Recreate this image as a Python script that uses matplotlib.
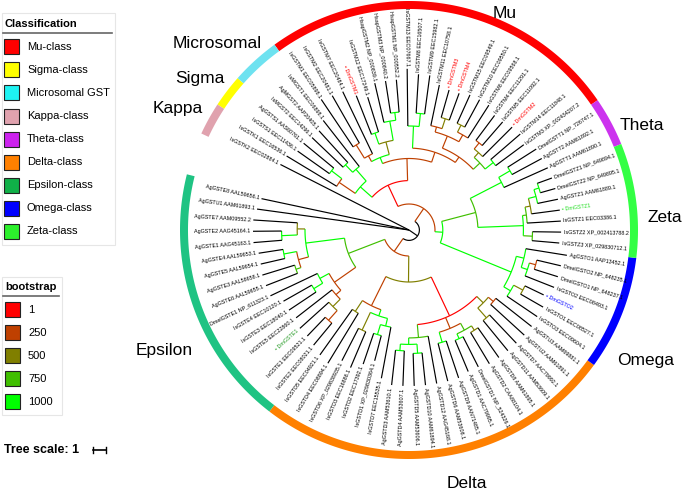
import numpy as np
import matplotlib
matplotlib.use("Agg")
import matplotlib.pyplot as plt
from matplotlib.patches import Rectangle

plt.rcParams['font.family'] = ['Liberation Sans', 'DejaVu Sans']

# ---- tree (newick pieces, branch lengths in tree units, node labels = bootstrap)
EPS_LADDER = ("((AgGSTE7:3.4,(AgGSTE2:2.2,AgGSTE1:2.2)1000:1.2)500:0.6,"
              "((AgGSTE4:1.9,AgGSTE5:1.9)1000:1.0,(AgGSTE3:2.6,AgGSTE6:2.6)750:0.4)250:0.8)1000")
EPS_IS = ("((DmelGSTE1:4.0,(IsGSTE4:2.5,IsGSTE3:2.5)1000:0.8)1000:0.8,"
          "(IsGSTE5:3.5,(DmGSTE1:3.0,(IsGSTE1:2.0,IsGSTE2:2.2)250:1.0)500:0.8)250:0.5)250")
DELTA_IS = ("((IsGSTD5:4.3,IsGSTD4:4.5)500:1.0,((IsGSTD6:2.8,IsGSTD3:3.0)500:1.5,"
            "((IsGSTD2:2.5,IsGSTD1:2.0)1000:0.8,IsGSTD7:4.0)1000:0.6)1000:0.5)250")
DELTA_AG1 = ("(((AgGSTD3:2.7,AgGSTD4:2.7)1000:0.5,(AgGSTD5:2.5,AgGSTD10:2.5)1000:0.7)1000:0.5,"
             "AgGSTD12:3.7)750")
DELTA_AG2 = ("((AgGSTD6:3.0,AgGSTD9:3.0)1000:0.8,((AgGSTD1:2.6,DmelGSTD1:2.6)1000:0.4,"
             "(AgGSTD2:2.8,AgGSTD8:2.8)500:0.4)750:0.6)250")
DELTA_AG3 = "((AgGSTD11:3.0,AgGSTD7:3.0)500:1.0,(AgGSTU2:3.5,AgGSTU3:3.5)250:0.5)500"
OMEGA = ("((IsGSTO3:2.8,(IsGSTO1:2.0,DmGSTO2:1.6)500:0.8)1000:0.6,"
         "((IsGSTO2:2.4,(DmelGSTO1:1.9,DmelGSTO2:1.9)250:0.5)1000:0.5,AgGSTO1:3.2)1000:0.6)1000")
ZETA = ("((IsGSTZ3:2.1,IsGSTZ2:2.2)750:0.7,(IsGSTZ1:2.6,(DmGSTZ1:2.2,(AgGSTZ1:1.6,"
        "(DmelGSTZ2:1.2,DmelGSTZ1:1.2)1000:0.4)1000:0.6)500:0.4)750:0.3)1000")
THETA = "(AgGSTT1:3.7,(AgGSTT2:2.6,DmelGSTT1:2.6)1000:1.0)1000"
MU_A = ("((IsGSTM3:2.7,IsGSTM14:3.0)1000:0.8,(DmGSTM2:3.2,(IsGSTM5:2.4,IsGSTM4:2.4)250:0.6)500:0.5)750")
MU_B = ("((IsGSTM6:3.0,(IsGSTM10:2.4,IsGSTM15:2.4)500:0.6)250:0.6,"
        "((DmGSTM4:2.2,DmGSTM3:2.2)500:0.8,IsGSTM11:3.2)250:0.4)250")
MU_C = "((IsGSTM9:3.0,IsGSTM8:3.0)1000:1.0,IsGSTM13:4.4)1000"
MU_D = ("(((HsapGSTM1:2.5,HsapGSTM3:2.5)1000:0.6,HsapGSTM2:3.1)1000:1.5,"
        "(IsGSTM12:2.8,DmGSTM1:3.2)1000:0.9)500")
MU_E = "(IsGSTM7:5.3,(IsGSTM2:4.2,IsGSTM1:4.4)250:1.2)250"
MSK = ("((IsMGST1:4.5,(AgMGST2:3.3,IsMGST2:3.3)1000:0.8)1000:1.2,"
       "((AgGSTS1:3.0,IsGSTS1:3.0)1000:1.0,IsGSTK1:4.5)250:1.5)1000")

EPSILON = "(" + EPS_LADDER + ":3.0," + EPS_IS + ":2.0)750"
DELTA = "(" + DELTA_IS + ":2.5,(" + DELTA_AG1 + ":1.0," + DELTA_AG2 + ":0.9," + DELTA_AG3 + ":0.7)1:3.3)500"
LOWER = "(" + EPSILON + ":3.0," + DELTA + ":2.0)250"
OZT = "(" + OMEGA + ":5.9,(" + ZETA + ":3.5," + THETA + ":2.7)750:2.7)1000"
MU = ("(((" + MU_A + ":0.7," + MU_B + ":1.0)250:0.5," + MU_C + ":1.7)250:0.8,("
      + MU_D + ":1.0," + MU_E + ":0.5)1000:0.5)250")
UPPER = "(" + OZT + ":0.6,(" + MU + ":1.7," + MSK + ":1.2)1:1.8)250"
TREE = "(AgGSTE8:11.6,AgGSTU1:11.8,(" + LOWER + ":1.2," + UPPER + ":1.2):0.8,IsGSTK2:11.1);"

ACCESSION = {
    "AgGSTE8": "AAL59656.1", "AgGSTU1": "AAM61893.1", "AgGSTE7": "AAM09552.2",
    "AgGSTE2": "AAG45164.1", "AgGSTE1": "AAG45163.1", "AgGSTE4": "AAL59653.1",
    "AgGSTE5": "AAL59654.1", "AgGSTE3": "AAL58658.1", "AgGSTE6": "AAL59655.1",
    "DmelGSTE1": "NP_611323.1", "IsGSTE4": "EEC10120.1", "IsGSTE3": "EEC18040.1",
    "IsGSTE5": "EEC22860.1", "IsGSTE1": "EEC09521.1", "IsGSTE2": "EEC08021.1",
    "IsGSTD5": "EEC04921.1", "IsGSTD4": "EEC08894.1", "IsGSTD6": "XP_029838935.1",
    "IsGSTD3": "EEC16886.1", "IsGSTD2": "EEC17392.1", "IsGSTD1": "XP_029830364.1",
    "IsGSTD7": "EEC15535.1", "AgGSTD3": "AAM53610.1", "AgGSTD4": "AAM53607.1",
    "AgGSTD5": "AAM53606.1", "AgGSTD10": "AAM61894.1", "AgGSTD12": "AAG45168.1",
    "AgGSTD6": "AAM53608.1", "AgGSTD9": "AAN71485.1", "AgGSTD1": "AAC79995.1",
    "DmelGSTD1": "NP_524326.1", "AgGSTD2": "CAA88104.1", "AgGSTD8": "AAM61895.1",
    "AgGSTD11": "AAM53609.1", "AgGSTD7": "AAC79992.1", "AgGSTU2": "AAM61891.1",
    "AgGSTU3": "AAM69881.1", "IsGSTO3": "EEC09604.1", "IsGSTO1": "EEC08527.1",
    "IsGSTO2": "EEC08493.1", "DmelGSTO1": "NP_648237.1", "DmelGSTO2": "NP_648235.1",
    "AgGSTO1": "AAP13452.1", "IsGSTZ3": "XP_029830712.1", "IsGSTZ2": "XP_002413788.2",
    "IsGSTZ1": "EEC03386.1", "AgGSTZ1": "AAM61889.1", "DmelGSTZ2": "NP_649895.1",
    "DmelGSTZ1": "NP_649894.1", "AgGSTT1": "AAM61890.1", "AgGSTT2": "AAM61892.1",
    "DmelGSTT1": "NP_726747.1", "IsGSTM3": "XP_002434207.2", "IsGSTM14": "EEC11848.1",
    "IsGSTM5": "EEC11092.1", "IsGSTM4": "EEC11291.1", "IsGSTM6": "EEC09568.1",
    "IsGSTM10": "EEC09550.1", "IsGSTM15": "EEC09549.1", "IsGSTM11": "EEC10758.1",
    "IsGSTM9": "EEC15982.1", "IsGSTM8": "EEC16507.1", "IsGSTM13": "EEC07667.1",
    "HsapGSTM1": "NP_000552.2", "HsapGSTM3": "NP_000840.2", "HsapGSTM2": "NP_000839.1",
    "IsGSTM12": "EEC17249.1", "IsGSTM7": "EEC20484.1", "IsGSTM2": "EEC20481.1",
    "IsGSTM1": "EEC05898.1", "IsMGST1": "EEC06898.1", "AgMGST2": "AAP20405.1",
    "IsMGST2": "EEC14296.1", "AgGSTS1": "AAS60761.1", "IsGSTS1": "EEC11436.1",
    "IsGSTK1": "EEC16536.1", "IsGSTK2": "EEC02884.1",
}
HIGHLIGHT = {"DmGSTM1": "#ff0000", "DmGSTM2": "#ff0000", "DmGSTM3": "#ff0000",
             "DmGSTM4": "#ff0000", "DmGSTZ1": "#22dd22", "DmGSTE1": "#229922",
             "DmGSTO2": "#0000ff"}

CLASS_NAMES = ["Mu-class", "Sigma-class", "Microsomal GST", "Kappa-class", "Theta-class",
               "Delta-class", "Epsilon-class", "Omega-class", "Zeta-class"]
CLASS_COLORS = ["#ff0000", "#ffff00", "#1ef2f2", "#e0a2ae", "#cc22ee",
                "#ff8000", "#10b048", "#0000ff", "#2cf02c"]
RING_COLORS = ["#ff0000", "#ffff00", "#6ee2f0", "#e0a2ae", "#cc33ee",
               "#ff8000", "#1fc383", "#0000ff", "#33ff44"]
CLASS_TAGS = ["Mu", "Sigma", "Microsomal", "Kappa", "Theta", "Delta", "Epsilon", "Omega", "Zeta"]
CLASS_FIRST = ["IsGSTM3", "AgGSTS1", "IsMGST1", "IsGSTK1", "AgGSTT1",
               "IsGSTD5", "AgGSTE8", "IsGSTO3", "IsGSTZ3"]
CLASS_LAST = ["IsGSTM1", "IsGSTS1", "IsMGST2", "IsGSTK2", "DmelGSTT1",
              "AgGSTU3", "IsGSTE2", "AgGSTO1", "DmelGSTZ1"]

BOOT_TICKS = [1, 250, 500, 750, 1000]

# ---- layout
CX, CY = 409, 230
UNIT = 13.0          # px per tree unit
START, SPAN = 168.0, 345.0
R_RING, RING_W = 225, 8
LABEL_POS = {"Mu": (505, 13), "Theta": (642, 125), "Zeta": (665, 217), "Omega": (646, 360),
             "Delta": (467, 483), "Epsilon": (164, 350), "Kappa": (178, 108),
             "Sigma": (200, 79), "Microsomal": (217, 44)}


def parse_newick(s):
    pos = 0

    def node():
        nonlocal pos
        n = {"children": [], "name": "", "length": 0.0, "support": None}
        if s[pos] == "(":
            pos += 1
            while True:
                n["children"].append(node())
                if s[pos] == ",":
                    pos += 1
                    continue
                pos += 1
                break
        start = pos
        while s[pos] not in ",():;":
            pos += 1
        label = s[start:pos].strip()
        if n["children"]:
            n["support"] = float(label) if label else None
        else:
            n["name"] = label
        if s[pos] == ":":
            pos += 1
            start = pos
            while s[pos] not in ",();":
                pos += 1
            n["length"] = float(s[start:pos])
        return n

    return node()


root = parse_newick(TREE)
leaves = []


def set_radius(n, r0):
    n["r"] = r0 + n["length"] * UNIT
    for c in n["children"]:
        set_radius(c, n["r"])
    if not n["children"]:
        leaves.append(n)


set_radius(root, 0.0)
step = SPAN / (len(leaves) - 1)
for i, lf in enumerate(leaves):
    lf["theta"] = START + i * step


def set_theta(n):
    if n["children"]:
        for c in n["children"]:
            set_theta(c)
        n["theta"] = 0.5 * (n["children"][0]["theta"] + n["children"][-1]["theta"])


set_theta(root)
leaf_theta = {lf["name"]: lf["theta"] for lf in leaves}


def pol(r, th):
    t = np.radians(th)
    return CX + r * np.cos(t), CY - r * np.sin(t)


def boot_color(b):
    t = (b - 1) / 999.0
    return (1 - t, t, 0)


fig = plt.figure(figsize=(6.85, 4.94), dpi=100)
ax = fig.add_axes([0, 0, 1, 1])
ax.set_xlim(0, 685)
ax.set_ylim(494, 0)
ax.axis('off')


def draw(n, parent_r):
    leaf = not n["children"]
    col = 'black' if (leaf or n["support"] is None) else boot_color(n["support"])
    if parent_r is not None:
        x0, y0 = pol(parent_r, n["theta"])
        x1, y1 = pol(n["r"], n["theta"])
        ax.plot([x0, x1], [y0, y1], color=col, lw=0.85, solid_capstyle='butt')
    if not leaf:
        a0, a1 = n["children"][0]["theta"], n["children"][-1]["theta"]
        ts = np.linspace(a0, a1, max(3, int(abs(a1 - a0) * 2)))
        xs, ys = pol(n["r"], ts)
        ax.plot(xs, ys, color=col, lw=0.85, solid_capstyle='butt')
        for c in n["children"]:
            draw(c, n["r"])
    else:
        name = n["name"]
        th = n["theta"]
        if name in HIGHLIGHT:
            txt, tcol = "\u2022 " + name, HIGHLIGHT[name]
        else:
            txt, tcol = name + " " + ACCESSION.get(name, ""), 'black'
        x, y = pol(n["r"] + 2.5, th)
        thn = th % 360
        if 90 < thn < 270:
            ax.text(x, y, txt, rotation=thn - 180, ha='right', va='center',
                    rotation_mode='anchor', fontsize=3.9, color=tcol)
        else:
            ax.text(x, y, txt, rotation=thn, ha='left', va='center',
                    rotation_mode='anchor', fontsize=3.9, color=tcol)


draw(root, None)

# classification ring
for tag, col, first, last in zip(CLASS_TAGS, RING_COLORS, CLASS_FIRST, CLASS_LAST):
    a0 = leaf_theta[first] - step / 2
    a1 = leaf_theta[last] + step / 2
    ts = np.linspace(a0, a1, 200)
    xo, yo = pol(R_RING + RING_W / 2, ts)
    xi, yi = pol(R_RING - RING_W / 2, ts[::-1])
    ax.fill(np.concatenate([xo, xi]), np.concatenate([yo, yi]), color=col, lw=0)
    lx, ly = LABEL_POS[tag]
    ax.text(lx, ly, tag, fontsize=12.5, ha='center', va='center')

# classification legend
ax.add_patch(Rectangle((2, 13), 113, 232, fill=False, ec='#e6e6e6', lw=0.8))
ax.text(5, 24, "Classification", fontsize=8, fontweight='bold', va='center')
ax.plot([3, 112], [33, 33], color='#666666', lw=1.2)
for i, (nm, col) in enumerate(zip(CLASS_NAMES, CLASS_COLORS)):
    yc = 47 + i * 23
    ax.add_patch(Rectangle((4, yc - 7.5), 15, 15, fc=col, ec='#222222', lw=0.8))
    ax.text(27, yc, nm, fontsize=8, va='center')

# bootstrap legend
ax.add_patch(Rectangle((2, 277), 60, 138, fill=False, ec='#e6e6e6', lw=0.8))
ax.text(5, 287, "bootstrap", fontsize=8, fontweight='bold', va='center')
ax.plot([3, 59], [296, 296], color='#666666', lw=1.2)
for i, b in enumerate(BOOT_TICKS):
    yc = 309.5 + i * 23
    ax.add_patch(Rectangle((5, yc - 7.5), 15, 15, fc=boot_color(b), ec='#222222', lw=0.8))
    ax.text(28, yc, str(b), fontsize=8, va='center')

# tree scale
ax.text(4, 450, "Tree scale: 1", fontsize=9, fontweight='bold', va='center')
ax.plot([93, 93 + UNIT], [450, 450], color='black', lw=1.2)
ax.plot([93, 93], [447, 453], color='black', lw=1.0)
ax.plot([93 + UNIT, 93 + UNIT], [447, 453], color='black', lw=1.0)

fig.savefig("out.png", dpi=100)
